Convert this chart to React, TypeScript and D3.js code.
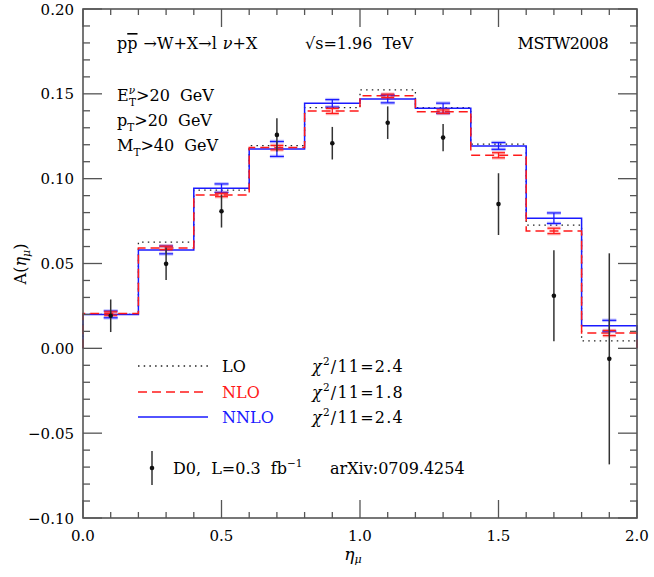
import React from "react";
import * as d3 from "d3";

const binEdges = [0, 0.2, 0.4, 0.6, 0.8, 1.0, 1.2, 1.4, 1.6, 1.8, 2.0];
const binCenters = [0.1, 0.3, 0.5, 0.7, 0.9, 1.1, 1.3, 1.5, 1.7, 1.9];
const lo = [0.0200, 0.0626, 0.0932, 0.1195, 0.1419, 0.1523, 0.1419, 0.1203, 0.0726, 0.0044];
const nlo = [0.0205, 0.0592, 0.0904, 0.1183, 0.1399, 0.1488, 0.1395, 0.1138, 0.0692, 0.0090];
const nnlo = [0.0200, 0.0580, 0.0944, 0.1175, 0.1444, 0.1470, 0.1415, 0.1193, 0.0767, 0.0133];
const nloErr = [0.0010, 0.0010, 0.0010, 0.0013, 0.0015, 0.0010, 0.0010, 0.0015, 0.0016, 0.0015];
const nnloErr = [0.0020, 0.0023, 0.0025, 0.0044, 0.0022, 0.0023, 0.0030, 0.0020, 0.0031, 0.0032];
const dataY = [0.0192, 0.0498, 0.0808, 0.1258, 0.1209, 0.1330, 0.1242, 0.0850, 0.0310, -0.0062];
const dataErr = [0.0096, 0.0095, 0.0096, 0.0098, 0.0096, 0.0096, 0.0080, 0.0182, 0.0268, 0.0622];
const xMajor = [0, 0.5, 1.0, 1.5, 2.0];
const xMajorLabels = ["0.0", "0.5", "1.0", "1.5", "2.0"];
const yMajor = [-0.1, -0.05, 0, 0.05, 0.1, 0.15, 0.2];
const yMajorLabels = ["\u22120.10", "\u22120.05", "0.00", "0.05", "0.10", "0.15", "0.20"];
const chiValues = ["2.4", "1.8", "2.4"];

const W = 654, H = 577;
const FONT = "'DejaVu Serif', 'Liberation Serif', serif";
const RED = "#ff1a1a";
const BLUE = "#1a1aff";
const FRAME = "#555";

export default function App() {
  const x = d3.scaleLinear().domain([0, 2]).range([83, 637]);
  const y = d3.scaleLinear().domain([-0.1, 0.2]).range([518, 9]);

  const histPath = (vals: number[]) => {
    const pts: [number, number][] = [[binEdges[0], 0]];
    vals.forEach((v, i) => {
      pts.push([binEdges[i], v]);
      pts.push([binEdges[i + 1], v]);
    });
    pts.push([binEdges[binEdges.length - 1], 0]);
    return d3.line<[number, number]>().x((d) => x(d[0])).y((d) => y(d[1]))(pts) || "";
  };

  const xMinor = d3.range(0, 21).map((i) => i / 10);
  const yMinor = d3.range(-10, 21).map((i) => i / 100);
  const [x0, x1] = x.range();
  const [y0, y1] = y.range();

  const errBars = (vals: number[], errs: number[], color: string, hw: number) =>
    vals.map((v, i) => {
      const cx = x(binCenters[i]);
      const yt = y(v + errs[i]);
      const yb = y(v - errs[i]);
      return (
        <g key={i}>
          <line x1={cx - hw} x2={cx + hw} y1={yt} y2={yt} stroke={color} strokeWidth={3.5} opacity={0.28} />
          <line x1={cx - hw} x2={cx + hw} y1={yb} y2={yb} stroke={color} strokeWidth={3.5} opacity={0.28} />
          <line x1={cx} x2={cx} y1={yt} y2={yb} stroke={color} strokeWidth={1.3} />
          <line x1={cx - hw} x2={cx + hw} y1={yt} y2={yt} stroke={color} strokeWidth={1.2} />
          <line x1={cx - hw} x2={cx + hw} y1={yb} y2={yb} stroke={color} strokeWidth={1.2} />
        </g>
      );
    });

  const legY = [366, 392, 417];
  const legX = [138, 208];
  const fs = 16;
  const ws = 5;

  return (
    <svg width={W} height={H} style={{ position: "absolute", left: 0, top: 0, background: "#fff" }} fontFamily={FONT}>
      <rect x={0} y={0} width={W} height={H} fill="#fff" />
      {/* histograms */}
      <path d={histPath(lo)} fill="none" stroke="#222" strokeWidth={1.3} strokeDasharray="1.5 4.2" />
      <path d={histPath(nnlo)} fill="none" stroke={BLUE} strokeWidth={1.5} />
      <path d={histPath(nlo)} fill="none" stroke={RED} strokeWidth={1.5} strokeDasharray="9 5" />
      {errBars(nnlo, nnloErr, BLUE, 7)}
      {errBars(nlo, nloErr, RED, 6.5)}
      {/* data */}
      {dataY.map((v, i) => (
        <g key={"d" + i}>
          <line x1={x(binCenters[i])} x2={x(binCenters[i])} y1={y(v + dataErr[i])} y2={y(v - dataErr[i])} stroke="#333" strokeWidth={1.5} />
          <circle cx={x(binCenters[i])} cy={y(v)} r={2.3} fill="#111" />
        </g>
      ))}
      {/* frame */}
      <rect x={x0} y={y1} width={x1 - x0} height={y0 - y1} fill="none" stroke={FRAME} strokeWidth={1.6} />
      {xMinor.map((t) => {
        const major = xMajor.some((m) => Math.abs(m - t) < 1e-9);
        const L = major ? 18 : 6;
        return (
          <g key={"xt" + t}>
            <line x1={x(t)} x2={x(t)} y1={y0} y2={y0 - L} stroke={FRAME} strokeWidth={1.3} />
            <line x1={x(t)} x2={x(t)} y1={y1} y2={y1 + L} stroke={FRAME} strokeWidth={1.3} />
          </g>
        );
      })}
      {yMinor.map((t) => {
        const major = yMajor.some((m) => Math.abs(m - t) < 1e-9);
        const L = major ? 19 : 7;
        return (
          <g key={"yt" + t}>
            <line x1={x0} x2={x0 + L} y1={y(t)} y2={y(t)} stroke={FRAME} strokeWidth={1.3} />
            <line x1={x1} x2={x1 - L} y1={y(t)} y2={y(t)} stroke={FRAME} strokeWidth={1.3} />
          </g>
        );
      })}
      {/* tick labels */}
      {xMajor.map((t, i) => (
        <text key={"xl" + i} x={x(t)} y={541} textAnchor="middle" fontSize={15}>
          {xMajorLabels[i]}
        </text>
      ))}
      {yMajor.map((t, i) => (
        <text key={"yl" + i} x={74} y={y(t) + 5.5} textAnchor="end" fontSize={15}>
          {yMajorLabels[i]}
        </text>
      ))}
      {/* axis titles */}
      <text transform="translate(26,264) rotate(-90)" textAnchor="middle" fontSize={16}>
        A(<tspan fontStyle="italic">η</tspan>
        <tspan fontSize={11} dy={4} fontStyle="italic">μ</tspan>
        <tspan dy={-4}>)</tspan>
      </text>
      <text x={353} y={560} textAnchor="middle" fontSize={17} fontStyle="italic">
        η<tspan fontSize={11} dy={3}>μ</tspan>
      </text>
      {/* annotations */}
      <text x={117} y={49} fontSize={fs} wordSpacing={1}>
        p<tspan style={{ textDecoration: "overline" }}>p</tspan> →W+X→l <tspan fontStyle="italic">ν</tspan>+X
      </text>
      <text x={305} y={49} fontSize={fs} wordSpacing={ws}>√s=1.96 TeV</text>
      <text x={608} y={49} fontSize={fs} textAnchor="end" letterSpacing={-0.6}>MSTW2008</text>
      <text x={117} y={101} fontSize={fs} wordSpacing={ws}>
        E<tspan fontSize={10.5} dy={-7} fontStyle="italic">ν</tspan>
        <tspan fontSize={10.5} dx={-6} dy={12}>T</tspan>
        <tspan dy={-5}>&gt;20 GeV</tspan>
      </text>
      <text x={117} y={126} fontSize={fs} wordSpacing={ws}>
        p<tspan fontSize={10.5} dy={5}>T</tspan>
        <tspan dy={-5}>&gt;20 GeV</tspan>
      </text>
      <text x={117} y={151} fontSize={fs} wordSpacing={ws}>
        M<tspan fontSize={10.5} dy={5}>T</tspan>
        <tspan dy={-5}>&gt;40 GeV</tspan>
      </text>
      {/* legend */}
      <line x1={legX[0]} x2={legX[1]} y1={legY[0]} y2={legY[0]} stroke="#222" strokeWidth={1.3} strokeDasharray="1.5 4.2" />
      <line x1={legX[0]} x2={legX[1]} y1={legY[1]} y2={legY[1]} stroke={RED} strokeWidth={1.5} strokeDasharray="9 5" />
      <line x1={legX[0]} x2={legX[1]} y1={legY[2]} y2={legY[2]} stroke={BLUE} strokeWidth={1.5} />
      <text x={222} y={legY[0] + 6} fontSize={fs}>LO</text>
      <text x={222} y={legY[1] + 6} fontSize={fs} fill={RED}>NLO</text>
      <text x={222} y={legY[2] + 6} fontSize={fs} fill={BLUE}>NNLO</text>
      {chiValues.map((s, i) => (
        <text key={"chi" + i} x={312} y={legY[i] + 6} fontSize={fs} letterSpacing={1.2}>
          <tspan fontStyle="italic">χ</tspan>
          <tspan fontSize={10.5} dy={-7}>2</tspan>
          <tspan dy={7}>/11={s}</tspan>
        </text>
      ))}
      <line x1={152} x2={152} y1={451} y2={485} stroke="#333" strokeWidth={1.5} />
      <circle cx={152} cy={468} r={2.3} fill="#111" />
      <text x={173} y={474} fontSize={fs} wordSpacing={ws}>
        D0, L=0.3 fb<tspan fontSize={10.5} dy={-7}>−1</tspan>
      </text>
      <text x={330} y={474} fontSize={fs}>arXiv:0709.4254</text>
    </svg>
  );
}
